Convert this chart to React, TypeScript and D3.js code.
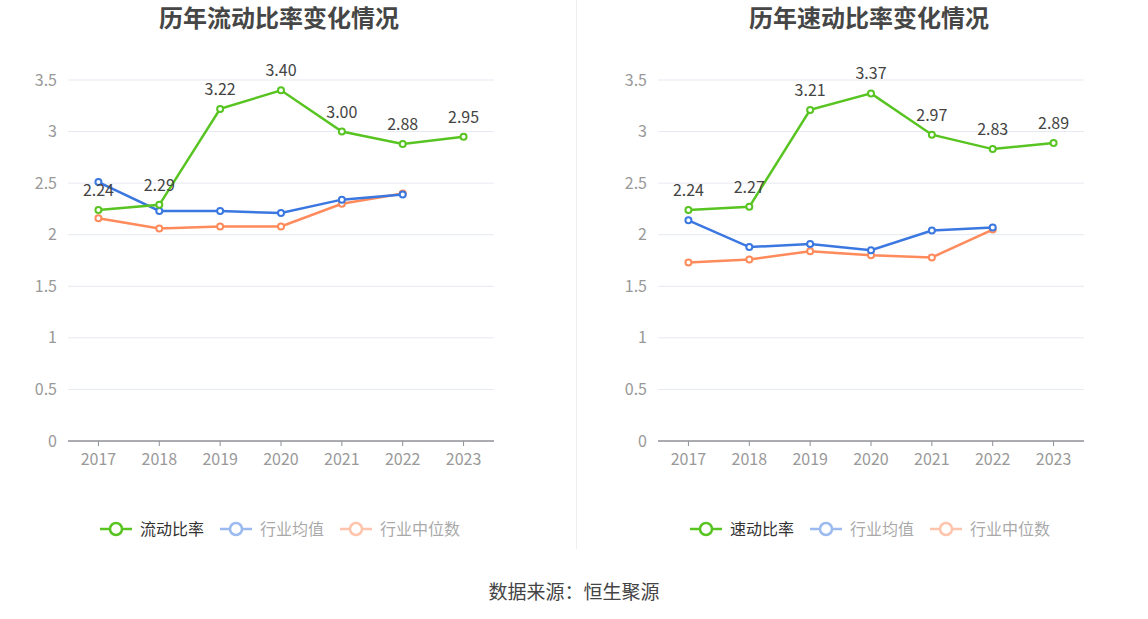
import React from "react";
import * as d3 from "d3";

const years = ["2017", "2018", "2019", "2020", "2021", "2022", "2023"];
const yTicks = [0, 0.5, 1, 1.5, 2, 2.5, 3, 3.5];

const currentRatio = [2.24, 2.29, 3.22, 3.4, 3.0, 2.88, 2.95];
const currentIndustryAvg = [2.51, 2.23, 2.23, 2.21, 2.34, 2.39];
const currentIndustryMedian = [2.16, 2.06, 2.08, 2.08, 2.3, 2.4];

const quickRatio = [2.24, 2.27, 3.21, 3.37, 2.97, 2.83, 2.89];
const quickIndustryAvg = [2.14, 1.88, 1.91, 1.85, 2.04, 2.07];
const quickIndustryMedian = [1.73, 1.76, 1.84, 1.8, 1.78, 2.05];

const GREEN = "#58c422";
const BLUE = "#3a77e0";
const ORANGE = "#ff8a5b";
const FONT = "'Noto Sans CJK SC', 'Noto Sans', sans-serif";

type PanelProps = {
  x0: number;
  title: string;
  main: number[];
  avg: number[];
  median: number[];
  mainName: string;
};

function Panel({ x0, title, main, avg, median, mainName }: PanelProps) {
  const left = x0 + 68;
  const right = x0 + 494;
  const top = 80;
  const bottom = 441;
  const x = d3.scaleBand<string>().domain(years).range([left, right]);
  const y = d3.scaleLinear().domain([0, 3.5]).range([bottom, top]);
  const cx = (i: number) => (x(years[i]) as number) + x.bandwidth() / 2;
  const line = d3
    .line<number>()
    .x((_, i) => cx(i))
    .y((d) => y(d));

  const series = [
    { data: median, color: ORANGE },
    { data: avg, color: BLUE },
    { data: main, color: GREEN },
  ];

  const legend = [
    { name: mainName, color: GREEN, faded: false, lx: x0 + 100 },
    { name: "行业均值", color: BLUE, faded: true, lx: x0 + 220 },
    { name: "行业中位数", color: ORANGE, faded: true, lx: x0 + 340 },
  ];

  return (
    <g>
      <text
        x={x0 + 279}
        y={27}
        textAnchor="middle"
        fontSize={24}
        fontWeight="bold"
        fill="#464646"
        fontFamily={FONT}
      >
        {title}
      </text>
      {yTicks.map((t) => (
        <g key={t}>
          {t > 0 && (
            <line x1={left} x2={right} y1={y(t)} y2={y(t)} stroke="#e6e9f2" strokeWidth={1} />
          )}
          <text
            x={left - 11}
            y={y(t)}
            dy="0.35em"
            textAnchor="end"
            fontSize={16}
            fill="#999"
            fontFamily={FONT}
          >
            {String(t)}
          </text>
        </g>
      ))}
      <line x1={left} x2={right} y1={bottom} y2={bottom} stroke="#8e9099" strokeWidth={1.5} />
      {years.map((yr, i) => (
        <g key={yr}>
          <line x1={cx(i)} x2={cx(i)} y1={bottom} y2={bottom + 5} stroke="#8e9099" strokeWidth={1} />
          <text
            x={cx(i)}
            y={bottom + 24}
            textAnchor="middle"
            fontSize={16}
            fill="#999"
            fontFamily={FONT}
          >
            {yr}
          </text>
        </g>
      ))}
      {series.map((s, k) => (
        <g key={k}>
          <path d={line(s.data) || ""} fill="none" stroke={s.color} strokeWidth={2.5} />
          {s.data.map((d, i) => (
            <circle key={i} cx={cx(i)} cy={y(d)} r={3} fill="#fff" stroke={s.color} strokeWidth={2} />
          ))}
        </g>
      ))}
      {main.map((d, i) => (
        <text
          key={i}
          x={cx(i)}
          y={y(d) - 14}
          textAnchor="middle"
          fontSize={16}
          fill="#444"
          fontFamily={FONT}
        >
          {d.toFixed(2)}
        </text>
      ))}
      {legend.map((l) => (
        <g key={l.name} opacity={l.faded ? 0.5 : 1}>
          <line x1={l.lx} x2={l.lx + 32} y1={529} y2={529} stroke={l.color} strokeWidth={2.5} />
          <circle cx={l.lx + 16} cy={529} r={6} fill="#fff" stroke={l.color} strokeWidth={2.5} />
          <text
            x={l.lx + 40}
            y={529}
            dy="0.35em"
            fontSize={16}
            fill={l.faded ? "#555" : "#333"}
            fontFamily={FONT}
          >
            {l.name}
          </text>
        </g>
      ))}
    </g>
  );
}

export default function App() {
  return (
    <svg
      width={1148}
      height={619}
      style={{ position: "absolute", left: 0, top: 0, background: "#fff" }}
    >
      <rect x={0} y={0} width={1148} height={619} fill="#fff" />
      <line x1={576.5} x2={576.5} y1={0} y2={549} stroke="#eeeeee" strokeWidth={1} />
      <Panel
        x0={0}
        title="历年流动比率变化情况"
        main={currentRatio}
        avg={currentIndustryAvg}
        median={currentIndustryMedian}
        mainName="流动比率"
      />
      <Panel
        x0={590}
        title="历年速动比率变化情况"
        main={quickRatio}
        avg={quickIndustryAvg}
        median={quickIndustryMedian}
        mainName="速动比率"
      />
      <text
        x={574}
        y={599}
        textAnchor="middle"
        fontSize={19}
        fill="#444"
        fontFamily={FONT}
      >
        数据来源：恒生聚源
      </text>
    </svg>
  );
}
